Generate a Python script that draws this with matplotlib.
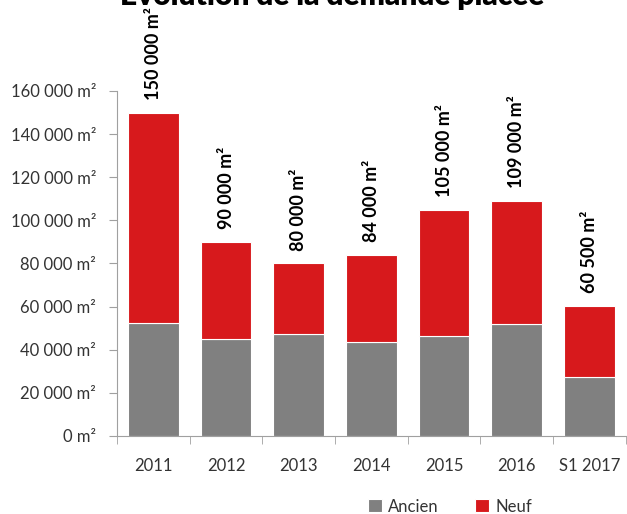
import matplotlib.pyplot as plt
import numpy as np

plt.rcParams['font.family'] = ['Lato', 'DejaVu Sans']

# Data (m²)
categories = ["2011", "2012", "2013", "2014", "2015", "2016", "S1 2017"]
totals = [150000, 90000, 80000, 84000, 105000, 109000, 60500]
ancien = [52500, 45000, 47500, 43500, 46500, 52000, 27500]
neuf = [t - a for t, a in zip(totals, ancien)]
total_labels = ["150 000 m²", "90 000 m²", "80 000 m²", "84 000 m²",
                "105 000 m²", "109 000 m²", "60 500 m²"]
ytick_values = [0, 20000, 40000, 60000, 80000, 100000, 120000, 140000, 160000]


def fmt(v):
    return f"{v:,.0f}".replace(",", " ") + " m²"


fig = plt.figure(figsize=(6.27, 5.14), dpi=100)
ax = fig.add_axes([0.1866, 0.1518, 0.8114, 0.6712])

x = np.arange(len(categories))
gray = "#808080"
red = "#d7191c"
ax.bar(x, ancien, width=0.70, color=gray, edgecolor="white", linewidth=0.8, label="Ancien")
ax.bar(x, neuf, bottom=ancien, width=0.70, color=red, edgecolor="white", linewidth=0.8, label="Neuf")

for xi, t, lab in zip(x, totals, total_labels):
    ax.annotate(lab, (xi, t), xytext=(0, 9), textcoords="offset points",
                rotation=90, ha="center", va="bottom", fontsize=13,
                fontweight="bold", color="black", annotation_clip=False)

ax.set_xlim(-0.5, len(categories) - 0.5)
ax.set_ylim(0, 160000)
ax.set_yticks(ytick_values)
ax.set_yticklabels([fmt(v) for v in ytick_values], fontsize=12, color="#333333")

ax.set_xticks(x)
ax.set_xticklabels(categories, fontsize=12, color="#333333")
ax.tick_params(axis="x", length=0, pad=16)
ax.set_xticks(np.arange(len(categories) + 1) - 0.5, minor=True)
ax.tick_params(axis="x", which="minor", length=6, color="#a0a0a0")
ax.tick_params(axis="y", length=6, color="#a0a0a0", pad=9)

for s in ["top", "right"]:
    ax.spines[s].set_visible(False)
for s in ["left", "bottom"]:
    ax.spines[s].set_color("#a0a0a0")

fig.text(0.53, 0.99, "Evolution de la demande placée", ha="center", va="baseline",
         fontsize=21.5, fontweight="heavy")

ax.legend(loc="upper center", bbox_to_anchor=(0.655, -0.138), ncol=2, frameon=False,
          fontsize=12, handlelength=0.8, handleheight=0.8, columnspacing=2.2,
          handletextpad=0.4, labelcolor="#333333")

fig.savefig("out.png", dpi=100)
